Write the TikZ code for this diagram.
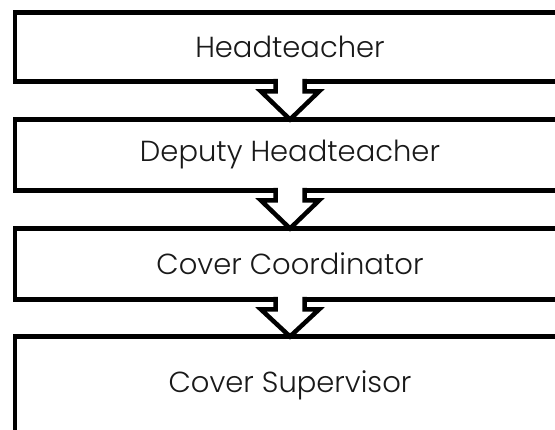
\documentclass[tikz,border=0pt]{standalone}
\usepackage{fontspec}
\setmainfont{Poppins Light}
\usetikzlibrary{calc}
\tikzset{
  stage/.style={draw=black, line width=4.5pt, fill=white, minimum width=550pt, outer sep=0pt, font=\fontsize{29}{33}\selectfont, text=black!90},
  hollow/.style={draw=black, line width=4.5pt, fill=white, miter limit=10},
}
\begin{document}
\begin{tikzpicture}[x=1pt, y=-1pt]
  \useasboundingbox (0,0) rectangle (555,430);
  \clip (0,0) rectangle (555,430);
  \node[stage, minimum height=69pt] (head)   at (290,47)    {Headteacher};
  \node[stage, minimum height=71pt] (deputy) at (290,155)   {Deputy Headteacher};
  \node[stage, minimum height=71pt] (coord)  at (290,264)   {Cover Coordinator};
  \node[stage, minimum height=98pt] (supv)   at (290,385.5) {Cover Supervisor};
  % hollow arrows, neck cut into the upper box
  \foreach \a/\b in {head/deputy, deputy/coord, coord/supv} {
    \draw[hollow] ($(\a.south)+(-14.5,-2.5)$) -- ++(0,12.5) -- ++(-14.5,0) -- (\b.north)
      -- ($(\a.south)+(29,10)$) -- ++(-14.5,0) -- ++(0,-12.5);
  }
\end{tikzpicture}
\end{document}
